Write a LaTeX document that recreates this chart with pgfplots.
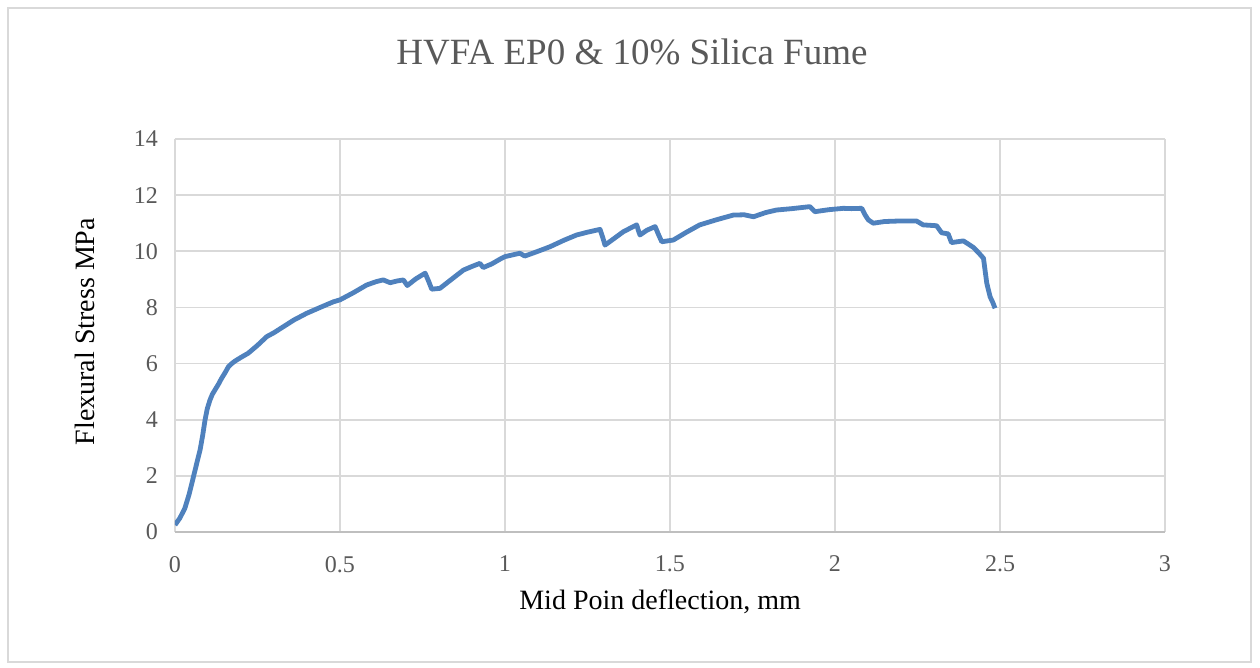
\documentclass[border=0pt]{standalone}
\usepackage{pgfplots}
\pgfplotsset{compat=1.18}
\usepackage{fontspec}
\setmainfont{Liberation Serif}
\definecolor{excelblue}{RGB}{79,129,189}
\definecolor{gridgray}{RGB}{217,217,217}
\definecolor{axisgray}{RGB}{191,191,191}
\definecolor{labelgray}{RGB}{89,89,89}
\begin{document}
\begin{tikzpicture}[x=1pt,y=1pt]
  \useasboundingbox (-87.5,-68) rectangle (542.5,266);
  \draw[gridgray, line width=0.7pt] (-83.5,-65) rectangle (538,262);
  \begin{axis}[
      at={(0,0)}, anchor=south west,
      scale only axis, width=495pt, height=196.5pt,
      xmin=0, xmax=3, ymin=0, ymax=14,
      xtick={0,0.5,1,1.5,2,2.5,3},
      ytick={0,2,4,6,8,10,12,14},
      xticklabels={0,0.5,1,1.5,2,2.5,3},
      grid=major,
      major grid style={gridgray, line width=0.8pt},
      axis lines*=left,
      x axis line style={axisgray, line width=1pt},
      y axis line style={draw=none},
      major tick length=0pt,
      tick style={draw=none},
      ticklabel style={font=\fontsize{12}{14}\selectfont, text=labelgray},
      x tick label style={yshift=-8.5pt},
      y tick label style={xshift=-5pt},
      /pgf/number format/assume math mode=true,
      xlabel={Mid Poin deflection, mm},
      ylabel={Flexural Stress MPa},
      label style={font=\fontsize{14}{17}\selectfont, text=black},
      xlabel style={at={(axis description cs:0.49,0)}, anchor=center, yshift=-35pt},
      ylabel style={at={(axis description cs:-0.0909,0.51)}, anchor=center},
      title={HVFA EP0 \& 10\% Silica Fume},
      title style={at={(axis description cs:0.4616,1.191)}, anchor=center,
        font=\fontsize{18.5}{22}\selectfont, text=labelgray},
    ]
    \addplot[excelblue, line width=2.4pt, line join=round, no markers] coordinates {
      (0.000,0.25) (0.015,0.50) (0.030,0.85) (0.043,1.35) (0.056,1.97)
      (0.066,2.45) (0.076,2.92) (0.084,3.45) (0.091,3.99) (0.098,4.40)
      (0.106,4.70) (0.113,4.90) (0.121,5.06) (0.131,5.25) (0.141,5.47)
      (0.152,5.68) (0.162,5.89) (0.172,6.00) (0.182,6.09) (0.200,6.22)
      (0.222,6.37) (0.250,6.65) (0.278,6.96) (0.300,7.10) (0.328,7.31)
      (0.360,7.55) (0.399,7.79) (0.440,8.00) (0.480,8.20) (0.500,8.27)
      (0.540,8.52) (0.581,8.80) (0.610,8.92) (0.631,8.98) (0.652,8.88)
      (0.672,8.94) (0.692,8.98) (0.704,8.78) (0.730,9.02) (0.758,9.22)
      (0.768,8.95) (0.778,8.65) (0.803,8.68) (0.840,9.02) (0.874,9.33)
      (0.900,9.46) (0.924,9.57) (0.934,9.42) (0.960,9.55) (0.985,9.72)
      (1.000,9.81) (1.045,9.93) (1.060,9.83) (1.100,10.00) (1.136,10.16)
      (1.180,10.40) (1.217,10.58) (1.250,10.68) (1.288,10.78) (1.296,10.50)
      (1.303,10.22) (1.330,10.45) (1.359,10.70) (1.399,10.94) (1.404,10.75)
      (1.409,10.58) (1.430,10.75) (1.455,10.88) (1.465,10.60) (1.475,10.34)
      (1.510,10.40) (1.550,10.68) (1.590,10.94) (1.640,11.12) (1.692,11.29)
      (1.725,11.30) (1.753,11.23) (1.790,11.38) (1.823,11.47) (1.870,11.52)
      (1.924,11.59) (1.939,11.41) (1.980,11.48) (2.025,11.53) (2.050,11.52)
      (2.081,11.53) (2.092,11.28) (2.101,11.12) (2.116,11.00) (2.150,11.06)
      (2.197,11.08) (2.247,11.08) (2.267,10.94) (2.308,10.91) (2.323,10.66)
      (2.343,10.62) (2.353,10.31) (2.389,10.37) (2.405,10.25) (2.419,10.14)
      (2.435,9.95) (2.450,9.75) (2.455,9.30) (2.460,8.86) (2.470,8.38)
      (2.478,8.18) (2.485,7.97)
    };
  \end{axis}
\end{tikzpicture}
\end{document}
